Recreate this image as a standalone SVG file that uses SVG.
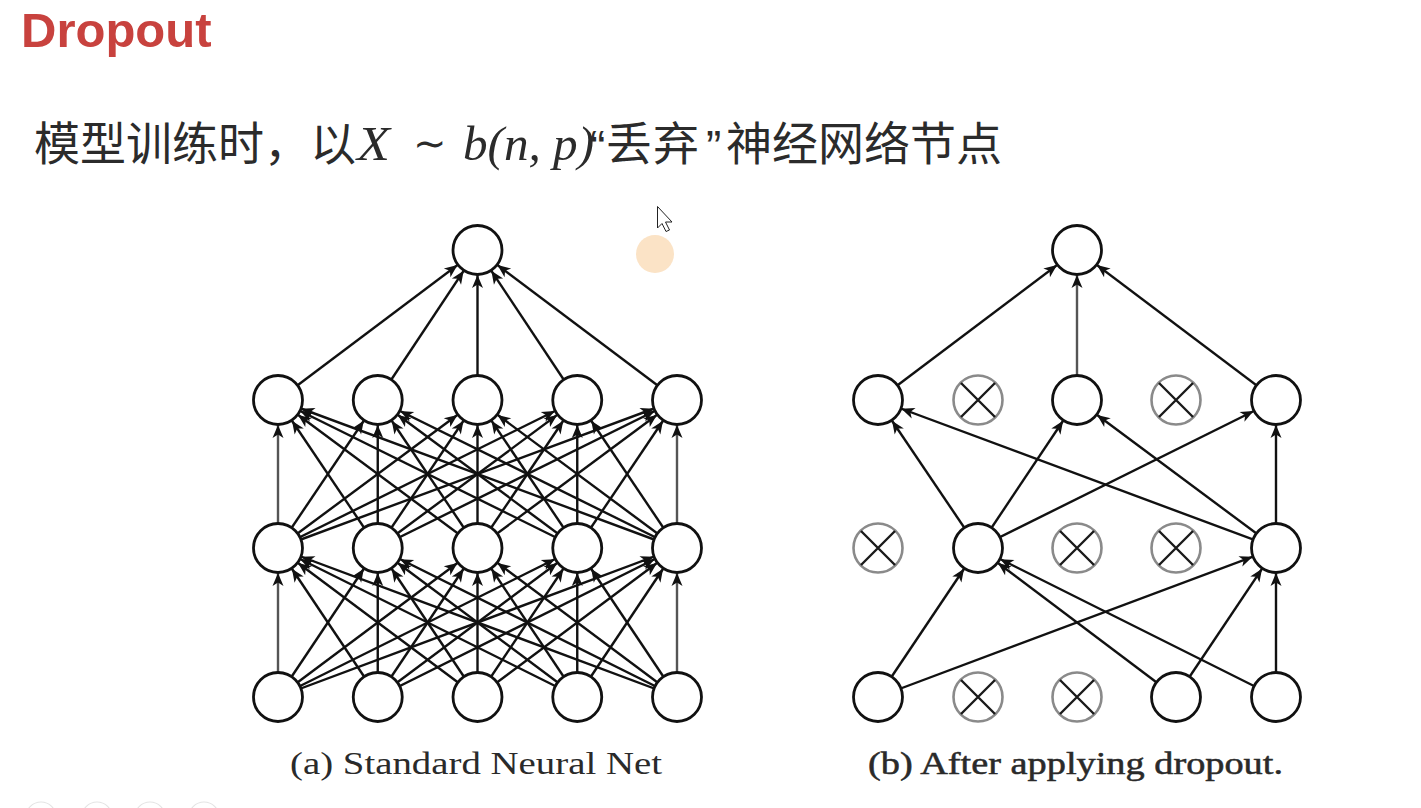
<svg xmlns="http://www.w3.org/2000/svg" width="1421" height="808" viewBox="0 0 1421 808">
<style>
.title{font-family:"Liberation Sans","Noto Sans",sans-serif;font-weight:bold;font-size:49px;fill:#C8423E}
.cjk{font-family:"Noto Sans CJK SC","Noto Sans",sans-serif;font-size:46px;fill:#2b2b2b}
.math{font-family:"Liberation Serif",serif;font-style:italic;font-size:48px;fill:#2b2b2b}
.q{font-family:"Liberation Sans",sans-serif;font-size:46px;fill:#2b2b2b}
.cap{font-family:"Liberation Serif",serif;font-size:31px;fill:#2a2a2a}
.e{stroke:#111;stroke-width:2.4;fill:none;marker-end:url(#ah)}
.eg{stroke:#555;stroke-width:2.4;fill:none;marker-end:url(#ah)}
.n{fill:#fff;stroke:#111;stroke-width:2.8}
.d{fill:#fff;stroke:#8a8a8a;stroke-width:2.6}
.x{stroke:#1a1a1a;stroke-width:2.4;fill:none}
</style>
<defs>
<marker id="ah" viewBox="-42 -7 44 14" markerWidth="44" markerHeight="14" refX="0" refY="0" orient="auto" markerUnits="userSpaceOnUse">
<path d="M-25,0 L-38,-5.5 L-34.5,0 L-38,5.5 Z" fill="#111"/>
</marker>
<g id="xmark"><path class="x" d="M-17,-17 L17,17 M17,-17 L-17,17"/></g>
</defs>
<rect width="1421" height="808" fill="#fff"/>

<text class="title" x="21" y="47">Dropout</text>

<g id="subtitle">
<text class="cjk" x="34" y="160">模型训练时，以</text>
<text class="math" x="357" y="160" textLength="33" lengthAdjust="spacingAndGlyphs">X</text>
<text x="413" y="157" font-family="DejaVu Sans,sans-serif" font-size="40" fill="#2b2b2b">∼</text>
<text class="math" x="463" y="160" textLength="131" lengthAdjust="spacingAndGlyphs">b(n, p)</text>
<text class="q" x="590" y="163">“</text>
<text class="cjk" x="606 653" y="160">丢弃</text>
<text class="q" x="706" y="163">”</text>
<text class="cjk" x="726" y="160">神经网络节点</text>
</g>

<g id="connectors">
<g id="connectors-a">
<line class="eg" x1="278" y1="697" x2="278" y2="548"/>
<line class="e" x1="278" y1="697" x2="377.75" y2="548"/>
<line class="e" x1="278" y1="697" x2="477.5" y2="548"/>
<line class="e" x1="278" y1="697" x2="577.25" y2="548"/>
<line class="e" x1="278" y1="697" x2="677" y2="548"/>
<line class="e" x1="377.75" y1="697" x2="278" y2="548"/>
<line class="e" x1="377.75" y1="697" x2="377.75" y2="548"/>
<line class="e" x1="377.75" y1="697" x2="477.5" y2="548"/>
<line class="e" x1="377.75" y1="697" x2="577.25" y2="548"/>
<line class="e" x1="377.75" y1="697" x2="677" y2="548"/>
<line class="e" x1="477.5" y1="697" x2="278" y2="548"/>
<line class="e" x1="477.5" y1="697" x2="377.75" y2="548"/>
<line class="e" x1="477.5" y1="697" x2="477.5" y2="548"/>
<line class="e" x1="477.5" y1="697" x2="577.25" y2="548"/>
<line class="e" x1="477.5" y1="697" x2="677" y2="548"/>
<line class="e" x1="577.25" y1="697" x2="278" y2="548"/>
<line class="e" x1="577.25" y1="697" x2="377.75" y2="548"/>
<line class="e" x1="577.25" y1="697" x2="477.5" y2="548"/>
<line class="e" x1="577.25" y1="697" x2="577.25" y2="548"/>
<line class="e" x1="577.25" y1="697" x2="677" y2="548"/>
<line class="e" x1="677" y1="697" x2="278" y2="548"/>
<line class="e" x1="677" y1="697" x2="377.75" y2="548"/>
<line class="e" x1="677" y1="697" x2="477.5" y2="548"/>
<line class="e" x1="677" y1="697" x2="577.25" y2="548"/>
<line class="eg" x1="677" y1="697" x2="677" y2="548"/>

<line class="eg" x1="278" y1="548" x2="278" y2="400"/>
<line class="e" x1="278" y1="548" x2="377.75" y2="400"/>
<line class="e" x1="278" y1="548" x2="477.5" y2="400"/>
<line class="e" x1="278" y1="548" x2="577.25" y2="400"/>
<line class="e" x1="278" y1="548" x2="677" y2="400"/>
<line class="e" x1="377.75" y1="548" x2="278" y2="400"/>
<line class="e" x1="377.75" y1="548" x2="377.75" y2="400"/>
<line class="e" x1="377.75" y1="548" x2="477.5" y2="400"/>
<line class="e" x1="377.75" y1="548" x2="577.25" y2="400"/>
<line class="e" x1="377.75" y1="548" x2="677" y2="400"/>
<line class="e" x1="477.5" y1="548" x2="278" y2="400"/>
<line class="e" x1="477.5" y1="548" x2="377.75" y2="400"/>
<line class="e" x1="477.5" y1="548" x2="477.5" y2="400"/>
<line class="e" x1="477.5" y1="548" x2="577.25" y2="400"/>
<line class="e" x1="477.5" y1="548" x2="677" y2="400"/>
<line class="e" x1="577.25" y1="548" x2="278" y2="400"/>
<line class="e" x1="577.25" y1="548" x2="377.75" y2="400"/>
<line class="e" x1="577.25" y1="548" x2="477.5" y2="400"/>
<line class="e" x1="577.25" y1="548" x2="577.25" y2="400"/>
<line class="e" x1="577.25" y1="548" x2="677" y2="400"/>
<line class="e" x1="677" y1="548" x2="278" y2="400"/>
<line class="e" x1="677" y1="548" x2="377.75" y2="400"/>
<line class="e" x1="677" y1="548" x2="477.5" y2="400"/>
<line class="e" x1="677" y1="548" x2="577.25" y2="400"/>
<line class="eg" x1="677" y1="548" x2="677" y2="400"/>

<line class="e" x1="278" y1="400" x2="477.5" y2="250"/>
<line class="e" x1="377.75" y1="400" x2="477.5" y2="250"/>
<line class="e" x1="477.5" y1="400" x2="477.5" y2="250"/>
<line class="e" x1="577.25" y1="400" x2="477.5" y2="250"/>
<line class="e" x1="677" y1="400" x2="477.5" y2="250"/>
</g>
<g id="connectors-b">
<line class="e" x1="878" y1="400" x2="1077" y2="250"/>
<line class="eg" x1="1077" y1="400" x2="1077" y2="250"/>
<line class="e" x1="1276" y1="400" x2="1077" y2="250"/>
<line class="e" x1="978" y1="548" x2="878" y2="400"/>
<line class="e" x1="1276" y1="548" x2="878" y2="400"/>
<line class="e" x1="978" y1="548" x2="1077" y2="400"/>
<line class="e" x1="1276" y1="548" x2="1077" y2="400"/>
<line class="e" x1="978" y1="548" x2="1276" y2="400"/>
<line class="e" x1="1276" y1="548" x2="1276" y2="400"/>
<line class="e" x1="878" y1="697" x2="978" y2="548"/>
<line class="e" x1="878" y1="697" x2="1276" y2="548"/>
<line class="e" x1="1176" y1="697" x2="978" y2="548"/>
<line class="e" x1="1276" y1="697" x2="978" y2="548"/>
<line class="e" x1="1176" y1="697" x2="1276" y2="548"/>
<line class="e" x1="1276" y1="697" x2="1276" y2="548"/>
</g>
</g>

<g id="nodes-a">
<g id="a-out"><circle class="n" cx="477.5" cy="250" r="24.5"/></g>
<g id="a-h2-1"><circle class="n" cx="278" cy="400" r="24.5"/></g>
<g id="a-h2-2"><circle class="n" cx="377.75" cy="400" r="24.5"/></g>
<g id="a-h2-3"><circle class="n" cx="477.5" cy="400" r="24.5"/></g>
<g id="a-h2-4"><circle class="n" cx="577.25" cy="400" r="24.5"/></g>
<g id="a-h2-5"><circle class="n" cx="677" cy="400" r="24.5"/></g>
<g id="a-h1-1"><circle class="n" cx="278" cy="548" r="24.5"/></g>
<g id="a-h1-2"><circle class="n" cx="377.75" cy="548" r="24.5"/></g>
<g id="a-h1-3"><circle class="n" cx="477.5" cy="548" r="24.5"/></g>
<g id="a-h1-4"><circle class="n" cx="577.25" cy="548" r="24.5"/></g>
<g id="a-h1-5"><circle class="n" cx="677" cy="548" r="24.5"/></g>
<g id="a-in-1"><circle class="n" cx="278" cy="697" r="24.5"/></g>
<g id="a-in-2"><circle class="n" cx="377.75" cy="697" r="24.5"/></g>
<g id="a-in-3"><circle class="n" cx="477.5" cy="697" r="24.5"/></g>
<g id="a-in-4"><circle class="n" cx="577.25" cy="697" r="24.5"/></g>
<g id="a-in-5"><circle class="n" cx="677" cy="697" r="24.5"/></g>
</g>

<g id="nodes-b">
<g id="b-out"><circle class="n" cx="1077" cy="250" r="24.5"/></g>
<g id="b-h2-1"><circle class="n" cx="878" cy="400" r="24.5"/></g>
<g id="b-h2-2"><circle class="d" cx="978" cy="400" r="24.5"/><use href="#xmark" x="978" y="400"/></g>
<g id="b-h2-3"><circle class="n" cx="1077" cy="400" r="24.5"/></g>
<g id="b-h2-4"><circle class="d" cx="1176" cy="400" r="24.5"/><use href="#xmark" x="1176" y="400"/></g>
<g id="b-h2-5"><circle class="n" cx="1276" cy="400" r="24.5"/></g>
<g id="b-h1-1"><circle class="d" cx="878" cy="548" r="24.5"/><use href="#xmark" x="878" y="548"/></g>
<g id="b-h1-2"><circle class="n" cx="978" cy="548" r="24.5"/></g>
<g id="b-h1-3"><circle class="d" cx="1077" cy="548" r="24.5"/><use href="#xmark" x="1077" y="548"/></g>
<g id="b-h1-4"><circle class="d" cx="1176" cy="548" r="24.5"/><use href="#xmark" x="1176" y="548"/></g>
<g id="b-h1-5"><circle class="n" cx="1276" cy="548" r="24.5"/></g>
<g id="b-in-1"><circle class="n" cx="878" cy="697" r="24.5"/></g>
<g id="b-in-2"><circle class="d" cx="978" cy="697" r="24.5"/><use href="#xmark" x="978" y="697"/></g>
<g id="b-in-3"><circle class="d" cx="1077" cy="697" r="24.5"/><use href="#xmark" x="1077" y="697"/></g>
<g id="b-in-4"><circle class="n" cx="1176" cy="697" r="24.5"/></g>
<g id="b-in-5"><circle class="n" cx="1276" cy="697" r="24.5"/></g>
</g>

<text class="cap" x="290" y="774" textLength="372" lengthAdjust="spacingAndGlyphs">(a) Standard Neural Net</text>
<text class="cap" x="868" y="774" textLength="415" lengthAdjust="spacingAndGlyphs" stroke="#2a2a2a" stroke-width="0.5">(b) After applying dropout.</text>

<g id="overlay">
<circle cx="655" cy="254" r="19" fill="#FBE3C6"/>
<path d="M657.5,206.5 L657.5,228 L662,223.5 L666,231.5 L669.5,230 L665.5,222 L672,222 Z" fill="#fff" stroke="#222" stroke-width="1"/>
<g fill="none" stroke="#e4e4e4" stroke-width="1.2">
<circle cx="41" cy="817" r="15"/>
<circle cx="97" cy="817" r="15"/>
<circle cx="150" cy="817" r="15"/>
<circle cx="204" cy="817" r="15"/>
</g>
</g>
</svg>
